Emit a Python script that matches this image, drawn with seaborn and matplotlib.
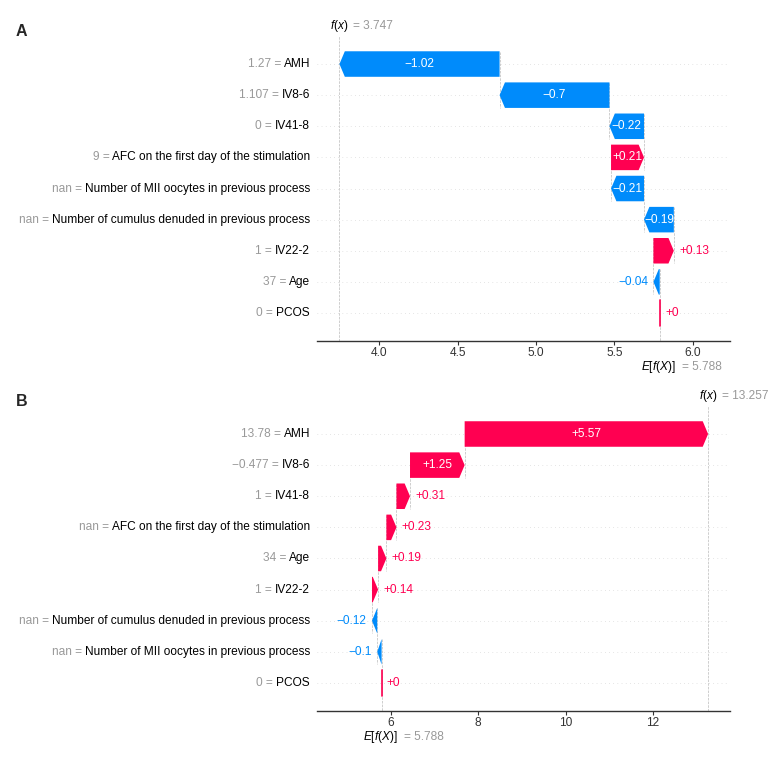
import matplotlib
matplotlib.use("Agg")
import matplotlib.pyplot as plt
import matplotlib.transforms as mtransforms
from matplotlib.patches import Polygon
import seaborn as sns

# expected value shared by both patients
base_value = 5.788

# panel A
a_features = ["AMH", "IV8-6", "IV41-8", "AFC on the first day of the stimulation",
              "Number of MII oocytes in previous process",
              "Number of cumulus denuded in previous process", "IV22-2", "Age", "PCOS"]
a_values = ["1.27", "1.107", "0", "9", "nan", "nan", "1", "37", "0"]
a_shap = [-1.02, -0.7, -0.22, 0.21, -0.21, -0.19, 0.13, -0.04, 0.0]
a_fx = "3.747"

# panel B
b_features = ["AMH", "IV8-6", "IV41-8", "AFC on the first day of the stimulation", "Age",
              "IV22-2", "Number of cumulus denuded in previous process",
              "Number of MII oocytes in previous process", "PCOS"]
b_values = ["13.78", "\u22120.477", "1", "nan", "34", "1", "nan", "nan", "0"]
b_shap = [5.57, 1.25, 0.31, 0.23, 0.19, 0.14, -0.12, -0.1, 0.0]
b_fx = "13.257"

RED = "#ff0051"
BLUE = "#008bfb"
GRAY = "#999999"

sns.set_theme(style="white")
plt.rcParams["font.family"] = ["Liberation Sans", "DejaVu Sans"]
plt.rcParams["mathtext.fontset"] = "custom"
plt.rcParams["mathtext.rm"] = "Liberation Sans"
plt.rcParams["mathtext.it"] = "Liberation Sans:italic"
plt.rcParams["font.size"] = 8.6


def fmt(v):
    return ("%+g" % round(v, 2)).replace("-", "\u2212")


def waterfall(fig, ax, features, values, shap_vals, fx_text, xlim):
    n = len(features)
    ax.set_xlim(xlim)
    ax.set_ylim(-0.9, n - 0.1)
    rend = fig.canvas.get_renderer()

    # cumulative positions, from the bottom row up
    starts = [0.0] * n
    ends = [0.0] * n
    pos = base_value
    for i in range(n - 1, -1, -1):
        starts[i] = pos
        pos = pos + shap_vals[i]
        ends[i] = pos
    fx = ends[0]

    hl = 0.013 * (xlim[1] - xlim[0])
    hw = 0.41
    px_per_unit = ax.bbox.width / (xlim[1] - xlim[0])
    ytr = mtransforms.offset_copy(ax.get_yaxis_transform(), fig=fig, x=-5, units="points")

    for i in range(n):
        y = n - 1 - i
        v = shap_vals[i]
        c = RED if v >= 0 else BLUE
        ax.axhline(y, color="#cccccc", lw=0.5, dashes=(1, 5), zorder=-1)
        ax.plot([starts[i], starts[i]], [y + 0.4, y - 1.4], color="#bbbbbb",
                ls="--", lw=0.5, zorder=-1)
        if v == 0:
            ax.plot([starts[i], starts[i]], [y - hw, y + hw], color=c, lw=1.2)
        else:
            s = 1 if v > 0 else -1
            h = min(hl, abs(v))
            x0, x1 = starts[i], ends[i]
            pts = [(x0, y - hw), (x1 - s * h, y - hw), (x1, y),
                   (x1 - s * h, y + hw), (x0, y + hw)]
            ax.add_patch(Polygon(pts, closed=True, facecolor=c, edgecolor="none"))

        # value label: inside the bar when it fits
        txt = ax.text((starts[i] + ends[i]) / 2, y, fmt(v), color="white",
                      ha="center", va="center")
        tw = txt.get_window_extent(rend).width
        if tw > abs(v) * px_per_unit + 1:
            txt.remove()
            sgn = 1 if v >= 0 else -1
            tr = mtransforms.offset_copy(ax.transData, fig=fig, x=3.8 * sgn, units="points")
            ax.text(ends[i], y, fmt(v), color=c, ha="left" if v >= 0 else "right",
                    va="center", transform=tr)

        # y labels: grey "value =" followed by the black feature name
        full = ax.text(0, y, values[i] + " = " + features[i], ha="right", va="center",
                       transform=ytr, clip_on=False, alpha=0)
        full_w = full.get_window_extent(rend).width
        full.remove()
        ax.text(0, y, features[i], color="black", ha="right", va="center",
                transform=ytr, clip_on=False)
        ptr = mtransforms.offset_copy(ytr, fig=fig, x=-full_w * 72 / fig.dpi, units="points")
        ax.text(0, y, values[i] + " =", color=GRAY, ha="left", va="center",
                transform=ptr, clip_on=False)

    # f(x) line and label on top
    ax.axvline(fx, color="#bbbbbb", ls="--", lw=0.5, zorder=-1)
    xt = ax.get_xaxis_transform()
    t1 = mtransforms.offset_copy(xt, fig=fig, x=-6.5, y=7.2, units="points")
    t2 = mtransforms.offset_copy(xt, fig=fig, x=10, y=7.2, units="points")
    ax.text(fx, 1, "$f(x)$", ha="left", va="center", transform=t1, color="black")
    ax.text(fx, 1, "= " + fx_text, ha="left", va="center", transform=t2, color=GRAY)

    # expected value label at the bottom
    t3 = mtransforms.offset_copy(xt, fig=fig, x=-13.7, y=-18.6, units="points")
    t4 = mtransforms.offset_copy(xt, fig=fig, x=16.2, y=-18.6, units="points")
    ax.text(base_value, 0, "$E[f(X)]$", ha="left", va="center", transform=t3, color="black")
    ax.text(base_value, 0, "= %.3f" % base_value, ha="left", va="center", transform=t4,
            color=GRAY)

    ax.set_yticks([])
    sns.despine(ax=ax, left=True, top=True, right=True)
    ax.spines["bottom"].set_color("#333333")
    ax.spines["bottom"].set_linewidth(1)
    ax.tick_params(axis="x", bottom=True, length=3, width=0.8, color="#333333",
                   labelcolor="#333333", labelsize=8.6, pad=1.2)


fig = plt.figure(figsize=(7.7, 7.6), dpi=100)
ax_a = fig.add_axes([0.4117, 0.5513, 0.5364, 0.4013])
ax_b = fig.add_axes([0.4117, 0.0645, 0.5364, 0.4013])

waterfall(fig, ax_a, a_features, a_values, a_shap, a_fx, (3.605, 6.236))
waterfall(fig, ax_b, b_features, b_values, b_shap, b_fx, (4.31, 13.76))

fig.text(16 / 770, 1 - 32 / 760, "A", fontsize=11.5, fontweight="bold", va="center", ha="left")
fig.text(16 / 770, 1 - 401 / 760, "B", fontsize=11.5, fontweight="bold", va="center", ha="left")

fig.savefig("out.png", dpi=100, facecolor="white")
